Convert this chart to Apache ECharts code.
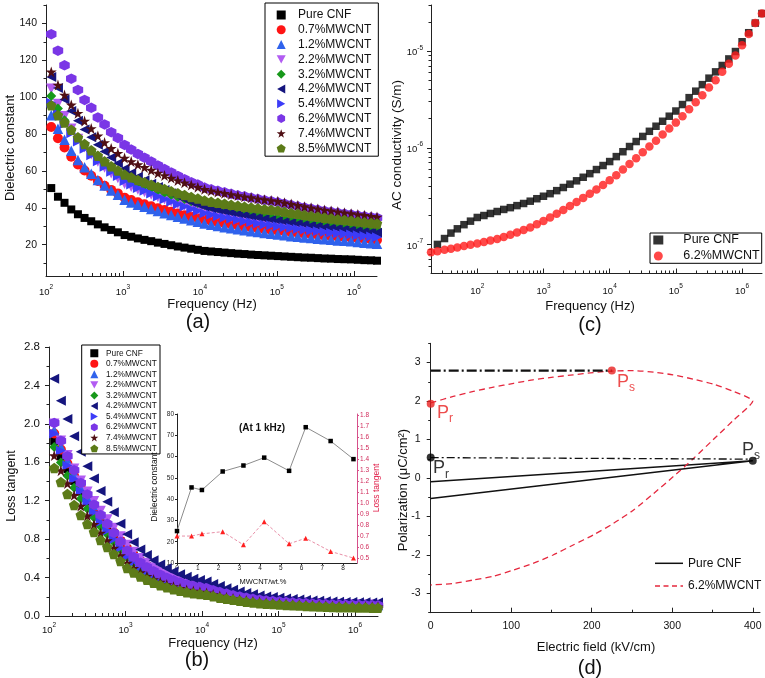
<!DOCTYPE html>
<html><head><meta charset="utf-8">
<script src="https://cdn.jsdelivr.net/npm/echarts@6/dist/echarts.min.js"></script>
<style>html,body{margin:0;padding:0;background:#fff}#c{width:765px;height:678px}</style>
</head><body><div id="c"></div>
<script>
// ---------------- DATA ----------------
const seriesNames = ['Pure CNF','0.7%MWCNT','1.2%MWCNT','2.2%MWCNT','3.2%MWCNT','4.2%MWCNT','5.4%MWCNT','6.2%MWCNT','7.4%MWCNT','8.5%MWCNT'];
const freqAB = [117,143,174,213,260,317,387,472,577,703,859,1050,1280,1563,1905,2328,2844,3467,4236,5164,6310,7709,9397,11480,14000,17100,20890,25470,31120,37930,46340,56620,69020,84330,102800,125600,153500,187100,228600,278600,340400,415900,507000,619400,755100,922600,1127000,1374000,1679000,2000000];
// (a) dielectric constant
const pureA = [50.7,46.0,42.7,39.1,36.5,34.5,32.7,31.0,29.4,28.0,26.7,25.2,24.3,23.4,22.6,21.9,21.1,20.4,19.7,19.0,18.4,17.8,17.2,16.6,16.3,16.0,15.7,15.4,15.1,14.9,14.6,14.4,14.2,14.0,13.8,13.6,13.4,13.2,13.0,12.9,12.7,12.5,12.4,12.2,12.1,12.0,11.8,11.6,11.5,11.3];
const m07A = [83.8,77.7,72.7,67.7,63.5,60.2,57.4,54.5,52.0,49.7,47.8,45.5,44.2,43.0,41.9,40.8,39.7,38.8,37.8,36.9,36.0,35.2,34.3,33.5,32.8,32.1,31.5,30.9,30.4,29.8,29.3,28.8,28.3,27.9,27.5,27.1,26.6,26.3,25.9,25.6,25.2,24.9,24.6,24.3,24.1,23.8,23.4,23.2,22.8,22.5];
const m12A = [90.2,82.9,76.9,70.9,65.9,62.0,58.5,55.1,52.1,49.4,47.1,44.3,42.9,41.6,40.5,39.3,38.2,37.1,36.1,35.1,34.2,33.3,32.4,31.5,30.8,30.1,29.5,28.9,28.4,27.8,27.3,26.8,26.3,25.9,25.5,25.1,24.6,24.3,23.9,23.6,23.2,22.9,22.6,22.3,22.1,21.8,21.4,21.1,20.8,20.5];
const m22A = [104.6,96.3,89.6,82.9,77.3,72.9,69.0,65.1,61.8,58.7,56.1,53.0,51.4,49.9,48.5,47.2,45.8,44.6,43.4,42.2,41.2,40.1,39.1,38.0,37.2,36.5,35.9,35.2,34.6,34.1,33.5,32.9,32.4,32.0,31.5,31.0,30.5,30.0,29.6,29.2,28.8,28.4,28.0,27.6,27.3,27.0,26.6,26.2,25.9,25.5];
const m32A = [100.7,93.8,87.5,82.2,77.8,74.0,70.5,67.0,64.0,61.5,59.2,56.8,55.1,53.6,52.2,50.8,49.5,48.2,47.0,45.8,44.7,43.6,42.6,41.5,40.7,39.9,39.2,38.5,37.9,37.3,36.6,36.0,35.5,35.0,34.5,34.0,33.5,33.0,32.6,32.2,31.8,31.4,31.0,30.6,30.3,30.0,29.6,29.2,28.9,28.5];
const m42A = [111,105,98.7,92.5,87.2,82.5,78.2,74.2,70.6,67.3,64.2,61.2,58.9,56.9,55.0,53.1,51.3,49.6,47.9,46.2,44.6,43.2,41.9,40.5,39.6,38.8,38.0,37.3,36.6,35.9,35.3,34.7,34.1,33.5,33.0,32.4,31.9,31.4,30.9,30.4,30.0,29.5,29.1,28.7,28.4,28.0,27.6,27.2,26.9,26.5];
const m54A = [97,91,85.5,80.5,76,72,68.5,65.3,62.3,59.6,57.2,54.5,52.6,50.8,49.3,47.7,46.1,44.6,43.3,41.9,40.7,39.4,38.2,37.0,36.2,35.4,34.7,34.0,33.4,32.7,32.1,31.5,31.0,30.5,30.0,29.5,29.0,28.5,28.1,27.7,27.3,26.9,26.5,26.1,25.8,25.5,25.1,24.7,24.4,24.0];
const m62A = [134.2,125.2,117.3,110.0,103.9,98.5,94.2,89.0,85.2,81.0,77.9,74.1,71.6,69.2,67.2,65.1,63.0,61.0,59.2,57.3,55.5,53.9,52.6,51.0,50.0,49.2,48.4,47.6,46.8,46.2,45.4,44.8,44.1,43.6,43.0,42.2,41.5,40.8,40.1,39.5,38.9,38.3,37.8,37.3,36.8,36.3,35.8,35.4,34.9,34.5];
const m74A = [113.7,106.6,101.2,95.8,91.3,87.1,83.0,79.0,75.4,72.2,69.6,67.0,65.1,63.4,61.9,60.4,58.8,57.5,56.1,54.8,53.6,52.4,51.2,50.0,49.2,48.5,47.9,47.2,46.6,46.0,45.5,44.9,44.4,43.9,43.5,42.7,42.0,41.3,40.6,40.0,39.4,38.8,38.3,37.8,37.3,36.8,36.3,35.9,35.4,35.0];
const m85A = [95.6,90.2,86.2,82.3,78.2,74.6,71.2,68.2,65.2,62.6,60.2,58.0,56.5,55.1,53.8,52.5,51.3,50.2,49.0,47.9,46.9,45.9,45.0,44.0,43.3,42.7,42.2,41.6,41.1,40.6,40.1,39.7,39.2,38.9,38.5,37.8,37.2,36.7,36.1,35.6,35.1,34.6,34.2,33.7,33.4,33.0,32.6,32.1,31.8,31.5];
// (b) loss tangent
const pureB = [1.82,1.663,1.529,1.406,1.294,1.193,1.103,1.014,.935,.857,.778,.70,.630,.569,.520,.475,.438,.405,.376,.352,.331,.315,.302,.29,.269,.249,.233,.217,.203,.191,.179,.170,.161,.156,.15,.145,.140,.136,.132,.128,.125,.122,.120,.118,.116,.115,.114,.113,.111,.11];
const m07B = [1.90,1.732,1.588,1.456,1.336,1.228,1.132,1.036,.952,.868,.784,.70,.630,.569,.520,.475,.438,.405,.376,.352,.331,.315,.302,.29,.269,.249,.233,.217,.203,.191,.179,.170,.161,.156,.15,.145,.140,.136,.132,.128,.125,.122,.120,.118,.116,.115,.114,.113,.111,.11];
const m12B = [1.93,1.761,1.615,1.482,1.361,1.252,1.156,1.059,.974,.889,.805,.72,.649,.586,.535,.489,.451,.418,.388,.363,.342,.325,.313,.30,.278,.258,.241,.225,.210,.197,.185,.175,.167,.161,.155,.150,.145,.141,.137,.133,.130,.127,.125,.123,.121,.12,.119,.118,.116,.115];
const m22B = [2.0,1.824,1.672,1.534,1.408,1.294,1.194,1.093,1.005,.916,.828,.74,.667,.602,.551,.504,.465,.430,.400,.374,.353,.336,.323,.31,.288,.267,.249,.232,.217,.204,.192,.181,.172,.166,.16,.154,.148,.144,.139,.135,.132,.128,.126,.123,.122,.12,.119,.118,.116,.115];
const m32B = [1.76,1.599,1.461,1.335,1.220,1.116,1.024,.932,.852,.771,.691,.61,.551,.498,.456,.418,.386,.358,.334,.313,.295,.281,.270,.26,.242,.225,.211,.198,.186,.175,.165,.157,.150,.145,.14,.135,.130,.126,.122,.118,.115,.112,.110,.108,.106,.105,.104,.103,.101,.10];
const m42B = [2.47,2.24,2.05,1.87,1.71,1.56,1.43,1.30,1.19,1.08,.96,.85,.767,.693,.634,.580,.536,.497,.463,.434,.409,.389,.375,.36,.334,.311,.290,.272,.255,.239,.226,.214,.204,.197,.19,.183,.177,.172,.167,.162,.158,.154,.151,.149,.147,.145,.1435,.142,.141,.14];
const m54B = [1.90,1.721,1.567,1.426,1.298,1.183,1.081,.978,.889,.799,.710,.62,.561,.508,.466,.428,.396,.368,.344,.323,.305,.291,.280,.27,.251,.234,.219,.205,.193,.181,.171,.163,.155,.150,.145,.140,.135,.131,.127,.123,.120,.117,.115,.113,.111,.11,.109,.108,.106,.105];
const m62B = [2.01,1.824,1.664,1.518,1.385,1.265,1.159,1.052,.959,.866,.773,.68,.614,.555,.508,.466,.430,.399,.372,.349,.329,.313,.302,.29,.269,.249,.233,.217,.203,.191,.179,.170,.161,.156,.15,.145,.140,.136,.132,.128,.125,.122,.120,.118,.116,.115,.114,.113,.111,.11];
const m74B = [1.67,1.513,1.379,1.256,1.144,1.043,.953,.864,.785,.707,.628,.55,.497,.451,.414,.380,.352,.327,.305,.287,.271,.259,.250,.24,.224,.208,.195,.183,.172,.162,.153,.145,.139,.134,.13,.125,.121,.118,.114,.111,.109,.106,.104,.102,.101,.10,.099,.098,.096,.095];
const m85B = [1.54,1.394,1.270,1.155,1.051,.958,.874,.791,.718,.646,.573,.50,.452,.410,.377,.346,.321,.298,.279,.262,.248,.237,.228,.22,.205,.191,.179,.168,.158,.149,.141,.134,.128,.124,.12,.115,.111,.108,.104,.101,.099,.096,.094,.092,.091,.09,.089,.088,.086,.085];
// (b) inset
const inX = [0,0.7,1.2,2.2,3.2,4.2,5.4,6.2,7.4,8.5];
const inDC = [25,45.5,44.3,53,55.8,59.5,53.3,73.8,67.3,58.8];
const inLT = [0.70,0.70,0.72,0.74,0.62,0.83,0.63,0.68,0.56,0.50];
// (c) AC conductivity
const freqC = [20,25,32,40,50,63,79,100,126,158,200,251,316,398,501,631,794,1000,1259,1585,1995,2512,3162,3981,5012,6310,7943,10000,12590,15850,19950,25120,31620,39810,50120,63100,79430,100000,125900,158500,199500,251200,316200,398100,501200,631000,794300,1000000,1259000,1585000,1995000];
const pureC = [null,1.0e-7,1.15e-7,1.31e-7,1.45e-7,1.6e-7,1.74e-7,1.9e-7,1.99e-7,2.09e-7,2.19e-7,2.3e-7,2.4e-7,2.52e-7,2.65e-7,2.8e-7,2.97e-7,3.15e-7,3.35e-7,3.6e-7,3.88e-7,4.2e-7,4.55e-7,4.95e-7,5.4e-7,5.95e-7,6.55e-7,7.2e-7,8.1e-7,9.1e-7,1.03e-6,1.16e-6,1.31e-6,1.48e-6,1.67e-6,1.88e-6,2.12e-6,2.4e-6,2.8e-6,3.3e-6,3.85e-6,4.5e-6,5.25e-6,6.1e-6,7.1e-6,8.3e-6,9.9e-6,1.25e-5,1.55e-5,1.95e-5,2.45e-5];
const mwC = [8.3e-8,8.5e-8,8.8e-8,9.0e-8,9.3e-8,9.6e-8,9.9e-8,1.02e-7,1.06e-7,1.1e-7,1.14e-7,1.19e-7,1.26e-7,1.33e-7,1.41e-7,1.5e-7,1.62e-7,1.75e-7,1.9e-7,2.07e-7,2.27e-7,2.5e-7,2.75e-7,3.03e-7,3.35e-7,3.7e-7,4.12e-7,4.6e-7,5.2e-7,5.95e-7,6.8e-7,7.8e-7,9.0e-7,1.03e-6,1.18e-6,1.37e-6,1.58e-6,1.82e-6,2.12e-6,2.5e-6,2.95e-6,3.5e-6,4.2e-6,5.0e-6,6.1e-6,7.4e-6,9.0e-6,1.15e-5,1.5e-5,1.95e-5,2.45e-5];
// (d) P-E loops
const pureD_E = [0,400,0];
const pureD_P = [-0.53,0.45,-0.1];
const mwD_E = [0,28,53,78,103,127,152,177,202,227,252,277,301,326,351,376,400,376,351,326,301,277,252,227,202,177,152,127,103,78,53,28,0];
const mwD_P = [1.95,2.12,2.25,2.36,2.46,2.55,2.62,2.68,2.74,2.78,2.79,2.75,2.68,2.57,2.44,2.25,2.0,1.5,1.0,0.5,0.03,-0.4,-0.83,-1.18,-1.48,-1.74,-2.0,-2.22,-2.39,-2.55,-2.65,-2.74,-2.78];
const ddHigh_E = [0,225], ddHigh_P = [2.79,2.79];
const ddLow_E = [0,398], ddLow_P = [0.53,0.49];
const ptE = [0,400,0,225], ptP = [0.53,0.45,1.93,2.79], ptSub = ['r','s','r','s'];
// tick labels
const decAB = [100,1000,10000,100000,1000000];
const decCy = [1e-7,1e-6,1e-5];
const yTicksA = [20,40,60,80,100,120,140];
const yTicksD = [-3,-2,-1,0,1,2,3];
const xTicksD = [0,100,200,300,400];
const inXTicks = [0,1,2,3,4,5,6,7,8];
const inRTicks = [0.5,0.6,0.7,0.8,0.9,1.0,1.1,1.2,1.3,1.4,1.5,1.6,1.7,1.8];

// ---------------- STYLE ----------------
const FONT = '"Liberation Sans", Arial, Helvetica, sans-serif';
const AX = '#222';
const colors = ['#000000','#ff1414','#2f62ec','#b25cf2','#17981a','#15157e','#3c3cf8','#7a36e6','#4f0f14','#5c7b18'];
const symbols = ['rect','circle','triangle','path://M0,0L10,0L5,9Z','diamond','path://M0,5L9,0L9,10Z','path://M0,0L9,5L0,10Z',
  'path://M5,0L9.33,2.5L9.33,7.5L5,10L0.67,7.5L0.67,2.5Z',
  'path://M5,0L6.2,3.6L10,3.6L6.9,5.9L8.1,9.5L5,7.3L1.9,9.5L3.1,5.9L0,3.6L3.8,3.6Z',
  'path://M5,0L10,3.7L8.1,9.6L1.9,9.6L0,3.7Z'];
const sizes = [8,10,10.5,10.5,10,10,10,10.5,11,10.5];
const valsA = [pureA,m07A,m12A,m22A,m32A,m42A,m54A,m62A,m74A,m85A];
const valsB = [pureB,m07B,m12B,m22B,m32B,m42B,m54B,m62B,m74B,m85B];

function minorsLog(lo, hi) {
  const out = [];
  for (let e = -9; e <= 7; e++) for (let k = 2; k <= 9; k++) {
    const v = +(k * Math.pow(10, e)).toPrecision(3);
    if (v > lo * 1.0001 && v < hi * 0.9999) out.push(v);
  }
  return out;
}
const powFmt = v => '{b|10}{s|' + Math.round(Math.log10(v)) + '}';
const powRich = (bs, ss) => ({
  b: {fontSize: bs, fontFamily: FONT, color: '#111', verticalAlign: 'bottom', lineHeight: bs + 4},
  s: {fontSize: ss, fontFamily: FONT, color: '#111', verticalAlign: 'top', lineHeight: ss}
});
function lineAx(show) { return {show: show, onZero: false, lineStyle: {color: AX, width: 1}}; }

function logX(grid, min, max, majors, lblSize, margin) {
  return [
    {gridIndex: grid, type: 'log', logBase: 10, min, max, position: 'bottom', axisLine: lineAx(true),
     axisTick: {show: true, inside: true, length: 5, customValues: majors, lineStyle: {color: AX}},
     axisLabel: {show: true, customValues: majors, formatter: powFmt, rich: powRich(lblSize, lblSize - 3), margin},
     splitLine: {show: false}, minorTick: {show: false}},
    {gridIndex: grid, type: 'log', logBase: 10, min, max, position: 'bottom', axisLine: lineAx(false),
     axisTick: {show: true, inside: true, length: 3, customValues: minorsLog(min, max), lineStyle: {color: AX}},
     axisLabel: {show: false}, splitLine: {show: false}}
  ];
}

const xAxes = [];
xAxes.push(...logX(0, 100, 2e6, decAB, 9.5, 8));       // 0,1 (a)
xAxes.push(...logX(1, 100, 2e6, decAB, 9.5, 6));       // 2,3 (b)
xAxes.push(...logX(2, 20, 2e6, decAB, 9.5, 9));        // 4,5 (c)
xAxes.push({gridIndex: 3, type: 'value', min: 0, max: 409, position: 'bottom', axisLine: lineAx(true),       // 6 (d)
  axisTick: {show: true, inside: true, length: 5, customValues: xTicksD, lineStyle: {color: AX}},
  axisLabel: {customValues: xTicksD, fontSize: 10.5, fontFamily: FONT, color: '#111', margin: 8},
  splitLine: {show: false}});
xAxes.push({gridIndex: 3, type: 'value', min: 0, max: 409, position: 'bottom', axisLine: lineAx(false),      // 7 (d) minor
  axisTick: {show: true, inside: true, length: 3, customValues: [50,150,250,350], lineStyle: {color: AX}},
  axisLabel: {show: false}, splitLine: {show: false}});
xAxes.push({gridIndex: 4, type: 'value', min: 0, max: 8.67, position: 'bottom', axisLine: lineAx(true),      // 8 inset
  axisTick: {show: true, inside: false, length: 2, customValues: inXTicks, lineStyle: {color: AX}},
  axisLabel: {customValues: inXTicks, fontSize: 6.5, fontFamily: FONT, color: '#222', margin: 2},
  splitLine: {show: false}});

const yAxes = [];
yAxes.push({gridIndex: 0, type: 'value', min: 3, max: 150, position: 'left', axisLine: lineAx(true),      // 0 (a)
  axisTick: {show: true, length: 4, customValues: yTicksA, lineStyle: {color: AX}},
  axisLabel: {customValues: yTicksA, fontSize: 10.5, fontFamily: FONT, color: '#111', margin: 9},
  splitLine: {show: false}});
yAxes.push({gridIndex: 0, type: 'value', min: 3, max: 150, position: 'left', axisLine: lineAx(false),     // 1 (a) minor
  axisTick: {show: true, length: 2.5, customValues: [10,30,50,70,90,110,130,150], lineStyle: {color: AX}},
  axisLabel: {show: false}, splitLine: {show: false}});
yAxes.push({gridIndex: 1, type: 'value', min: 0, max: 2.8, interval: 0.4, position: 'left', axisLine: lineAx(true), // 2 (b)
  axisTick: {show: true, length: 4, lineStyle: {color: AX}},
  minorTick: {show: true, splitNumber: 2, length: 2.5, lineStyle: {color: AX}},
  axisLabel: {fontSize: 11.5, fontFamily: FONT, color: '#111', margin: 9, formatter: v => v.toFixed(1)},
  splitLine: {show: false}, minorSplitLine: {show: false}});
yAxes.push({gridIndex: 2, type: 'log', logBase: 10, min: 5e-8, max: 3e-5, position: 'left', axisLine: lineAx(true), // 3 (c)
  axisTick: {show: true, length: 4, customValues: decCy, lineStyle: {color: AX}},
  axisLabel: {customValues: decCy, formatter: powFmt, rich: powRich(9.5, 6.5), margin: 8},
  splitLine: {show: false}});
yAxes.push({gridIndex: 2, type: 'log', logBase: 10, min: 5e-8, max: 3e-5, position: 'left', axisLine: lineAx(false), // 4 (c) minor
  axisTick: {show: true, length: 2.5, customValues: minorsLog(5e-8, 3.01e-5), lineStyle: {color: AX}},
  axisLabel: {show: false}, splitLine: {show: false}});
yAxes.push({gridIndex: 3, type: 'value', min: -3.5, max: 3.5, position: 'left', axisLine: lineAx(true),   // 5 (d)
  axisTick: {show: true, length: 4, customValues: yTicksD, lineStyle: {color: AX}},
  axisLabel: {customValues: yTicksD, fontSize: 10.5, fontFamily: FONT, color: '#111', margin: 10},
  splitLine: {show: false}});
yAxes.push({gridIndex: 3, type: 'value', min: -3.5, max: 3.5, position: 'left', axisLine: lineAx(false),  // 6 (d) minor
  axisTick: {show: true, length: 2.5, customValues: [-3.5,-2.5,-1.5,-0.5,0.5,1.5,2.5,3.5], lineStyle: {color: AX}},
  axisLabel: {show: false}, splitLine: {show: false}});
yAxes.push({gridIndex: 4, type: 'value', min: 10, max: 80, interval: 10, position: 'left', axisLine: lineAx(true), // 7 inset left
  axisTick: {show: true, length: 2, lineStyle: {color: AX}},
  axisLabel: {fontSize: 6.5, fontFamily: FONT, color: '#222', margin: 3},
  splitLine: {show: false}});
yAxes.push({gridIndex: 4, type: 'value', position: 'right', min: 0.455, max: 1.81,      // 8 inset right
  axisLine: {show: true, onZero: false, lineStyle: {color: '#d6508a', width: 1}},
  axisTick: {show: true, length: 2, customValues: inRTicks, lineStyle: {color: '#d6508a'}},
  axisLabel: {customValues: inRTicks, fontSize: 6.5, fontFamily: FONT, color: '#d02a5a', margin: 3, formatter: v => v.toFixed(1)},
  splitLine: {show: false}});

const series = [];
seriesNames.forEach((n, i) => {
  series.push({type: 'scatter', name: 'a|' + n, xAxisIndex: 0, yAxisIndex: 0, symbol: symbols[i], symbolSize: sizes[i],
    itemStyle: {color: colors[i], opacity: 1}, data: freqAB.map((f, j) => [f, valsA[i][j]]), silent: true});
});
seriesNames.forEach((n, i) => {
  series.push({type: 'scatter', name: 'b|' + n, xAxisIndex: 2, yAxisIndex: 2, symbol: symbols[i], symbolSize: sizes[i],
    itemStyle: {color: colors[i], opacity: 1}, data: freqAB.map((f, j) => [f, valsB[i][j]]), silent: true});
});
series.push({type: 'line', name: 'i|dc', xAxisIndex: 8, yAxisIndex: 7, symbol: 'rect', symbolSize: 4.5, showSymbol: true,
  itemStyle: {color: '#000'}, lineStyle: {color: '#8c8c8c', width: 1}, data: inX.map((x, j) => [x, inDC[j]]), z: 5});
series.push({type: 'line', name: 'i|lt', xAxisIndex: 8, yAxisIndex: 8, symbol: 'triangle', symbolSize: 5, showSymbol: true,
  itemStyle: {color: '#ff2020'}, lineStyle: {color: '#e890a8', width: 1, type: [3, 2]}, data: inX.map((x, j) => [x, inLT[j]]), z: 5});
series.push({type: 'scatter', name: 'c|Pure CNF', xAxisIndex: 4, yAxisIndex: 3, symbol: 'rect', symbolSize: 7.5,
  itemStyle: {color: '#000'}, data: freqC.map((f, j) => [f, pureC[j]]).filter(d => d[1] != null)});
series.push({type: 'scatter', name: 'c|6.2%MWCNT', xAxisIndex: 4, yAxisIndex: 3, symbol: 'circle', symbolSize: 8.5,
  itemStyle: {color: '#ff1a1a'}, data: freqC.map((f, j) => [f, mwC[j]])});
series.push({type: 'line', name: 'd|Pure CNF', xAxisIndex: 6, yAxisIndex: 5, symbol: 'none', itemStyle: {color: '#111'},
  lineStyle: {color: '#111', width: 1.5}, data: pureD_E.map((e, j) => [e, pureD_P[j]])});
series.push({type: 'line', name: 'd|6.2%MWCNT', xAxisIndex: 6, yAxisIndex: 5, symbol: 'none', smooth: 0.2, itemStyle: {color: '#e5283e'},
  lineStyle: {color: '#e5283e', width: 1.3, type: [6, 4]}, data: mwD_E.map((e, j) => [e, mwD_P[j]])});
series.push({type: 'line', name: 'd|ddHigh', xAxisIndex: 6, yAxisIndex: 5, symbol: 'none', itemStyle: {color: '#111'},
  lineStyle: {color: '#111', width: 2.2, type: [10, 3, 2, 3]}, data: ddHigh_E.map((e, j) => [e, ddHigh_P[j]])});
series.push({type: 'line', name: 'd|ddLow', xAxisIndex: 6, yAxisIndex: 5, symbol: 'none', itemStyle: {color: '#111'},
  lineStyle: {color: '#111', width: 1.3, type: [8, 3, 2, 3]}, data: ddLow_E.map((e, j) => [e, ddLow_P[j]])});
const ptColors = ['#000', '#000', '#e82020', '#e82020'];
const ptOffsets = [[-1.7, 13.8], [-14.7, -7.7], [2.3, 12], [1.2, 14]];
series.push({type: 'scatter', name: 'd|pts', xAxisIndex: 6, yAxisIndex: 5, symbol: 'circle', symbolSize: 8, z: 10,
  data: ptE.map((e, j) => ({
    value: [e, ptP[j]], itemStyle: {color: ptColors[j]},
    label: {show: true, position: 'right', distance: 0, offset: ptOffsets[j], formatter: '{p|P}{s|' + ptSub[j] + '}',
      rich: {p: {fontSize: 18, fontFamily: FONT, color: ptColors[j], verticalAlign: 'bottom', lineHeight: 18, padding: [0, 0, 3, 0]},
             s: {fontSize: 12, fontFamily: FONT, color: ptColors[j], verticalAlign: 'bottom', lineHeight: 12}}}
  }))});

const stripName = n => n.split('|')[1];
const legends = [
  {orient: 'vertical', left: 265, top: 3, padding: [6, 7, 2, 11.7], itemWidth: 9, itemHeight: 9, itemGap: 2.8,
   borderColor: '#000', borderWidth: 1, backgroundColor: '#fff', selectedMode: false, formatter: stripName,
   textStyle: {fontFamily: FONT, fontSize: 12, color: '#111', lineHeight: 12, padding: [0, 0, 0, 7.3]},
   data: seriesNames.map(n => 'a|' + n)},
  {orient: 'vertical', left: 81.7, top: 345, padding: [4.1, 3.3, 1.5, 8.6], itemWidth: 8, itemHeight: 8, itemGap: 2.26,
   borderColor: '#000', borderWidth: 1, backgroundColor: '#fff', selectedMode: false, formatter: stripName,
   textStyle: {fontFamily: FONT, fontSize: 8.3, color: '#111', lineHeight: 8.3, padding: [0, 0, 0, 2.7]},
   data: seriesNames.map(n => 'b|' + n)},
  {orient: 'vertical', left: 650, top: 233, padding: [0.5, 2, 0.8, 3.3], itemWidth: 10, itemHeight: 9, itemGap: 3,
   borderColor: '#000', borderWidth: 1, backgroundColor: '#fff', selectedMode: false, formatter: stripName,
   textStyle: {fontFamily: FONT, fontSize: 12.5, color: '#111', lineHeight: 13, padding: [0, 0, 0, 15]},
   data: ['c|Pure CNF', 'c|6.2%MWCNT']},
  {orient: 'vertical', left: 655, top: 557.3, padding: 0, itemWidth: 28, itemHeight: 10, itemGap: 10.7,
   selectedMode: false, formatter: stripName,
   textStyle: {fontFamily: FONT, fontSize: 12, color: '#111', lineHeight: 12},
   data: [{name: 'd|Pure CNF', icon: 'path://M0,0H28V1.5H0Z', itemStyle: {color: '#111'}},
          {name: 'd|6.2%MWCNT', icon: 'path://M0,0H5V1.3H0ZM8.5,0H13.5V1.3H8.5ZM17,0H22V1.3H17ZM25.5,0H28V1.3H25.5Z', itemStyle: {color: '#e5283e'}}]}
];

function txt(x, y, text, size, o) {
  o = o || {};
  return {type: 'text', x, y, rotation: o.rot || 0, z: 100, silent: true,
    style: {text, fontSize: size, fontFamily: FONT, fill: o.color || '#111', fontWeight: o.bold ? 'bold' : 'normal',
      align: 'center', verticalAlign: 'middle'}};
}
const R = Math.PI / 2;
const graphics = [
  txt(212, 304, 'Frequency (Hz)', 13), txt(198, 322, '(a)', 20), txt(10, 148, 'Dielectric constant', 13, {rot: R}),
  txt(590, 306, 'Frequency (Hz)', 13), txt(590, 325, '(c)', 20), txt(397, 145, 'AC conductivity (S/m)', 13.5, {rot: R}),
  txt(213, 643, 'Frequency (Hz)', 13), txt(197, 660, '(b)', 20), txt(12, 486, 'Loss tangent', 12.5, {rot: R}),
  txt(596, 647, 'Electric field (kV/cm)', 13), txt(590, 668, '(d)', 20), txt(403, 490, 'Polarization (μC/cm²)', 13, {rot: R}),
  txt(262, 428, '(At 1 kHz)', 10, {bold: true}), txt(263, 582, 'MWCNT/wt.%', 7.5),
  txt(155, 487, 'Dielectric constant', 8.5, {rot: R}), txt(377, 488, 'Loss tangent', 8.5, {rot: R, color: '#e0204a'})
];

const chart = echarts.init(document.getElementById('c'), null, {renderer: 'canvas'});
chart.setOption({
  animation: false,
  backgroundColor: '#fff',
  textStyle: {fontFamily: FONT},
  grid: [
    {left: 46, top: 5, width: 331, height: 271, outerBoundsMode: 'none'},
    {left: 49, top: 347, width: 329, height: 269, outerBoundsMode: 'none'},
    {left: 431, top: 5, width: 331, height: 268.5, outerBoundsMode: 'none'},
    {left: 430.7, top: 343.3, width: 329.3, height: 269.4, outerBoundsMode: 'none'},
    {left: 177, top: 414, width: 180, height: 149, outerBoundsMode: 'none'}
  ],
  xAxis: xAxes, yAxis: yAxes, series, legend: legends, graphic: graphics,
  tooltip: {show: false}
});
</script></body></html>
